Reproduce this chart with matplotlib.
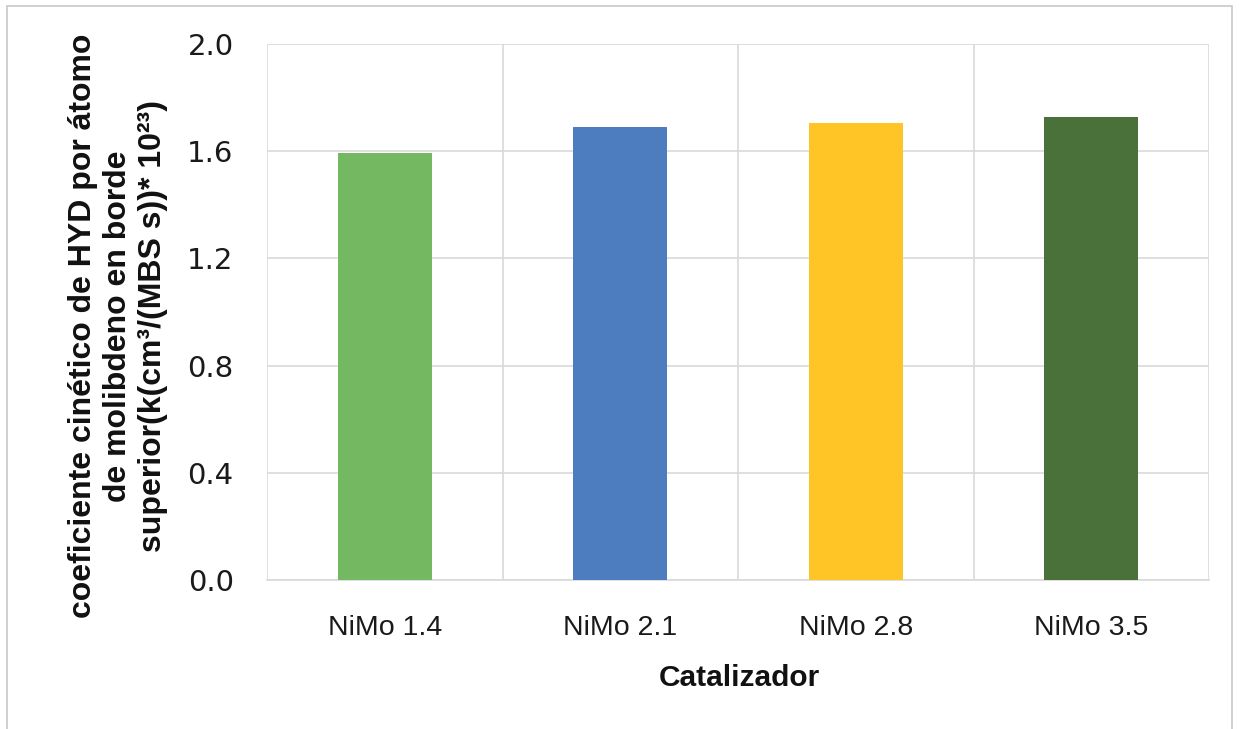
import matplotlib
matplotlib.use("Agg")
import matplotlib.pyplot as plt
from matplotlib.patches import Rectangle

categories = ["NiMo 1.4", "NiMo 2.1", "NiMo 2.8", "NiMo 3.5"]
values = [1.595, 1.69, 1.705, 1.728]
colors = ["#75B862", "#4E7DBF", "#FFC425", "#4A713A"]
yticks = [0.0, 0.4, 0.8, 1.2, 1.6, 2.0]
ylabel = ("coeficiente cinético de HYD por átomo\n"
          "de molibdeno en borde\n"
          "superior(k(cm³/(MBS s))* 10²³)")
xlabel = "Catalizador"

W, H = 1239, 729
fig = plt.figure(figsize=(W / 100, H / 100), dpi=100)
fig.patch.set_facecolor("white")

# outer chart border
fig.add_artist(Rectangle((7 / W, -0.01), (1232 - 7) / W, 1 - 6 / H + 0.01,
                         transform=fig.transFigure, fill=False,
                         edgecolor="#C8C8C8", linewidth=1.2))

left, right, top, bottom = 267, 1209, 44, 580
ax = fig.add_axes([left / W, 1 - bottom / H, (right - left) / W, (bottom - top) / H])

x = list(range(len(categories)))
ax.bar(x, values, width=0.4, color=colors, zorder=3)

ax.set_xlim(-0.5, len(categories) - 0.5)
ax.set_ylim(0, 2.0)
ax.set_yticks(yticks)
ax.set_yticklabels([f"{t:.1f}" for t in yticks], fontfamily="DejaVu Sans", fontsize=21, color="#1a1a1a")
ax.set_xticks(x)
ax.set_xticklabels(categories, fontfamily="Liberation Sans", fontsize=20.5, color="#1a1a1a")
ax.set_xticks([i - 0.5 for i in range(len(categories) + 1)], minor=True)

ax.tick_params(axis="both", which="both", length=0)
ax.tick_params(axis="y", pad=24)
ax.tick_params(axis="x", pad=25)

ax.grid(axis="y", which="major", color="#D9D9D9", linewidth=1.2, zorder=0)
ax.grid(axis="x", which="minor", color="#D9D9D9", linewidth=1.2, zorder=0)
ax.grid(axis="x", which="major", visible=False)

for s in ["left", "right", "top"]:
    ax.spines[s].set_visible(False)
ax.spines["bottom"].set_color("#D9D9D9")
ax.spines["bottom"].set_linewidth(1.2)

fig.text(739 / W, 1 - 678 / H, xlabel, ha="center", va="center",
         fontfamily="Liberation Sans", fontweight="bold", fontsize=21.5, color="#111111")

fig.text(118 / W, 1 - 326 / H, ylabel, ha="center", va="center", rotation=90,
         multialignment="center", linespacing=1.22,
         fontfamily="Liberation Sans", fontweight="bold", fontsize=23, color="#111111")

fig.savefig("out.png", dpi=100, facecolor="white")
